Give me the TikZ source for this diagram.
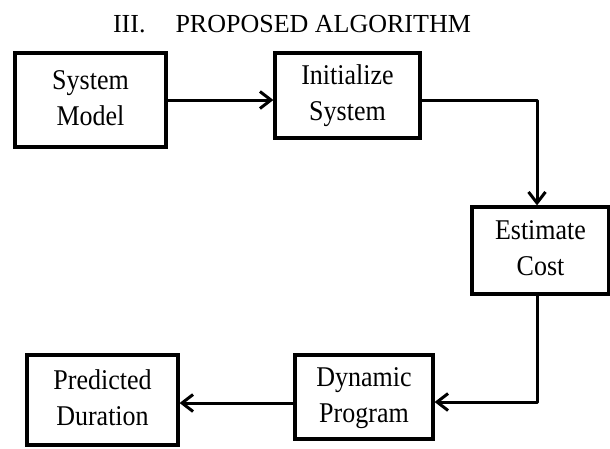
\documentclass[tikz,border=0pt]{standalone}
\usepackage{fontspec}
\setmainfont{Liberation Serif}
\usetikzlibrary{arrows.meta}
% two-line box label, slightly stretched vertically
\newcommand{\twoline}[2]{\scalebox{1}[1.1]{\begin{tabular}{@{}c@{}}#1\\#2\end{tabular}}}
\begin{document}
\begin{tikzpicture}[x=1pt,y=-1pt,
  stepbox/.style={draw=black,line width=3.2pt,align=center,inner sep=0pt,
    font=\fontsize{26}{33}\selectfont},
  flow/.style={line width=3pt,line cap=round,line join=round,
    -{Straight Barb[length=11pt,width=17pt,line width=3pt]}}]
  \useasboundingbox (0,0) rectangle (610,448);

  % heading
  \node[font=\fontsize{26}{30}\selectfont,anchor=base] (title) at (292,32)
    {III.\hspace{30pt}PROPOSED ALGORITHM};

  % process boxes
  \node[stepbox,minimum width=151pt,minimum height=94pt] (sm) at (90.5,100)
    {\twoline{System}{Model}};
  \node[stepbox,minimum width=145pt,minimum height=85pt] (init) at (347.5,95.5)
    {\twoline{Initialize}{System}};
  \node[stepbox,minimum width=137pt,minimum height=87pt] (est) at (540.5,250.5)
    {\twoline{Estimate}{Cost}};
  \node[stepbox,minimum width=138pt,minimum height=84pt] (dyn) at (364,397)
    {\twoline{Dynamic}{Program}};
  \node[stepbox,minimum width=151pt,minimum height=90pt] (pred) at (102.5,400)
    {\twoline{Predicted}{Duration}};

  % connectors
  \draw[flow] (sm.east) -- (sm.east -| init.west);
  \draw[flow] ([yshift=-4.5pt]init.east) -| ([xshift=-3.5pt]est.north);
  \draw[flow] ([xshift=-3.5pt]est.south) |- ([yshift=-5pt]dyn.east);
  \draw[flow] ([yshift=-6pt]dyn.west) -- ([yshift=-6pt]dyn.west -| pred.east);
\end{tikzpicture}
\end{document}
